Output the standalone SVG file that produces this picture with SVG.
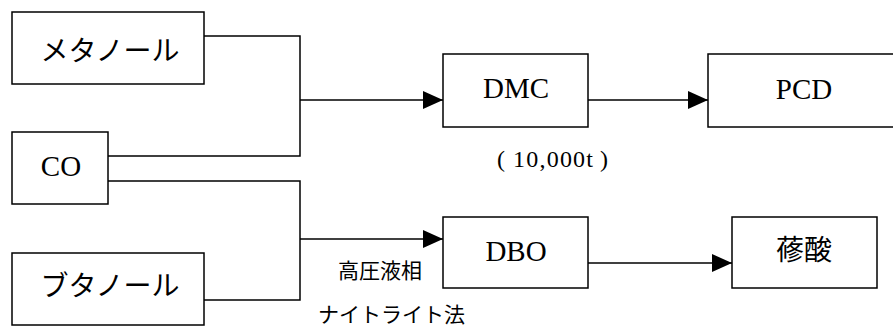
<svg xmlns="http://www.w3.org/2000/svg" width="893" height="327" viewBox="0 0 893 327">
<style>
.box{fill:#fff;stroke:#000;stroke-width:1.5}
.ln{fill:none;stroke:#000;stroke-width:1.5}
.lat{font-family:"Liberation Serif","Times New Roman",serif;font-size:29px;fill:#000}
.jp{font-family:"Noto Sans CJK JP","Noto Sans",sans-serif;fill:#000}
</style>
<defs>
<marker id="ah" markerUnits="userSpaceOnUse" markerWidth="20" markerHeight="20" refX="20" refY="9" orient="auto">
<path d="M0,0 L20,9 L0,18 Z" fill="#000"/>
</marker>
</defs>
<rect width="893" height="327" fill="#fff"/>
<g id="connectors">
<path class="ln" d="M204,36 H300 V156 H108"/>
<path class="ln" d="M300,100 H443" marker-end="url(#ah)"/>
<path class="ln" d="M588,100 H708" marker-end="url(#ah)"/>
<path class="ln" d="M108,181 H300 V300 H204"/>
<path class="ln" d="M300,239 H443" marker-end="url(#ah)"/>
<path class="ln" d="M588,263 H732" marker-end="url(#ah)"/>
</g>
<g id="methanol">
<rect class="box" x="12" y="12" width="192" height="72"/>
<text class="jp" x="110" y="61" font-size="28" text-anchor="middle">メタノール</text>
</g>
<g id="co">
<rect class="box" x="12" y="132" width="96" height="72"/>
<text class="lat" x="61" y="176" text-anchor="middle">CO</text>
</g>
<g id="butanol">
<rect class="box" x="12" y="253" width="192" height="72"/>
<text class="jp" x="110" y="296" font-size="28" text-anchor="middle">ブタノール</text>
</g>
<g id="dmc">
<rect class="box" x="443" y="54" width="145" height="73"/>
<text class="lat" x="516" y="98" text-anchor="middle">DMC</text>
</g>
<g id="pcd">
<rect class="box" x="708" y="54" width="190" height="73"/>
<text class="lat" x="804" y="99" text-anchor="middle">PCD</text>
</g>
<g id="dbo">
<rect class="box" x="443" y="217" width="145" height="71"/>
<text class="lat" x="516" y="261" text-anchor="middle">DBO</text>
</g>
<g id="oxalic">
<rect class="box" x="732" y="217" width="145" height="71"/>
<text class="jp" x="804" y="260" font-size="28" text-anchor="middle">蓚酸</text>
</g>
<g id="labels">
<text class="lat" y="167" style="font-size:24px"><tspan x="497">(</tspan><tspan x="513" textLength="80" lengthAdjust="spacing">10,000t</tspan><tspan x="600">)</tspan></text>
<text class="jp" x="338" y="278" font-size="21">高圧液相</text>
<text class="jp" x="318" y="322" font-size="21">ナイトライト法</text>
</g>
</svg>
